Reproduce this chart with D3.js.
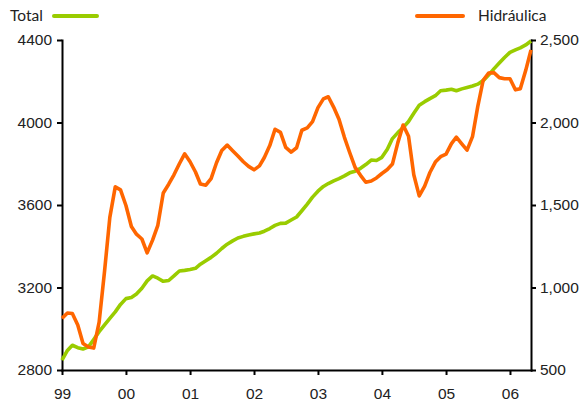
<!DOCTYPE html>
<html>
<head>
<meta charset="utf-8">
<script src="https://cdn.jsdelivr.net/npm/d3@7/dist/d3.min.js"></script>
<style>
  html, body { margin: 0; padding: 0; background: #fff; }
  svg { display: block; font-family: Lato, "Open Sans", sans-serif; }
  .axis text { font-size: 15.5px; fill: #222; }
  .axis path, .axis line { stroke: #000; stroke-width: 2px; }
</style>
</head>
<body>
<svg id="chart" width="587" height="404"></svg>
<script>
// Monthly series, January 1999 to May 2006
const startMonth = new Date(1999, 0, 1);
const endMonth = new Date(2006, 4, 1);

// Total (left axis)
const total = [
  2848, 2895, 2920, 2908, 2902, 2912, 2948, 2986, 3019, 3050, 3082, 3118,
  3146, 3151, 3168, 3196, 3232, 3256, 3245, 3230, 3234, 3256, 3280, 3283,
  3287, 3293, 3313, 3330, 3346, 3366, 3389, 3410, 3426, 3440, 3448, 3455,
  3460, 3464, 3473, 3486, 3501, 3511, 3512, 3527, 3542, 3572, 3604, 3638,
  3667, 3690, 3704, 3717, 3728, 3741, 3756, 3764, 3778, 3796, 3818, 3816,
  3831, 3870, 3922, 3951, 3975, 4005, 4045, 4084, 4101, 4116, 4130, 4154,
  4157, 4161, 4154, 4163, 4170, 4177, 4186, 4203, 4230, 4260, 4288, 4315,
  4340, 4352, 4362, 4376, 4395
];

// Hidráulica (right axis)
const hidraulica = [
  813, 845, 842, 773, 660, 639, 633, 790, 1100, 1425, 1610, 1592,
  1497, 1370, 1323, 1294, 1210, 1287, 1377, 1573, 1626, 1683, 1750, 1810,
  1762, 1700, 1627, 1620, 1660, 1756, 1830, 1863, 1829, 1797, 1762, 1734,
  1713, 1737, 1788, 1860, 1959, 1940, 1849, 1820, 1847, 1953, 1967, 2005,
  2090, 2143, 2156, 2092, 2020, 1910, 1818, 1728, 1680, 1638, 1645, 1664,
  1691, 1715, 1748, 1878, 1985, 1917, 1683, 1555, 1614, 1697, 1760, 1793,
  1808, 1872, 1911, 1871, 1833, 1914, 2096, 2256, 2300, 2302, 2272, 2265,
  2265, 2198, 2205, 2316, 2440
];

const leftTicks = [2800, 3200, 3600, 4000, 4400];
const rightTicks = [500, 1000, 1500, 2000, 2500];
const legendLabels = ["Total", "Hidráulica"];
const colors = { total: "#99cc00", hidraulica: "#ff6600" };

const months = d3.timeMonths(startMonth, d3.timeMonth.offset(endMonth, 1));

const svg = d3.select("#chart");
const plot = { left: 62, right: 531, top: 40, bottom: 370 };

const x = d3.scaleTime().domain([startMonth, endMonth]).range([plot.left, plot.right]);
const yLeft = d3.scaleLinear().domain([2800, 4400]).range([plot.bottom, plot.top]);
const yRight = d3.scaleLinear().domain([500, 2500]).range([plot.bottom, plot.top]);

const yearTicks = d3.timeYears(new Date(1999, 0, 1), new Date(2006, 1, 1));

// Axes
svg.append("g").attr("class", "axis")
  .attr("transform", `translate(0,${plot.bottom})`)
  .call(d3.axisBottom(x).tickValues(yearTicks).tickFormat(d3.timeFormat("%y"))
    .tickSize(5).tickSizeOuter(0).tickPadding(13));

svg.append("g").attr("class", "axis")
  .attr("transform", `translate(${plot.left},0)`)
  .call(d3.axisLeft(yLeft).tickValues(leftTicks).tickFormat(d3.format("d"))
    .tickSize(5).tickSizeOuter(0).tickPadding(5));

svg.append("g").attr("class", "axis")
  .attr("transform", `translate(${plot.right},0)`)
  .call(d3.axisRight(yRight).tickValues(rightTicks).tickFormat(d3.format(","))
    .tickSize(5).tickSizeOuter(0).tickPadding(4));

svg.selectAll(".axis .domain").attr("stroke-linecap", "square");

// Lines
const lineTotal = d3.line().x((d, i) => x(months[i])).y(d => yLeft(d));
const lineHidr = d3.line().x((d, i) => x(months[i])).y(d => yRight(d));

svg.append("path").datum(total)
  .attr("d", lineTotal)
  .attr("fill", "none").attr("stroke", colors.total)
  .attr("stroke-width", 3.6).attr("stroke-linejoin", "round");

svg.append("path").datum(hidraulica)
  .attr("d", lineHidr)
  .attr("fill", "none").attr("stroke", colors.hidraulica)
  .attr("stroke-width", 3.6).attr("stroke-linejoin", "round");

// Legend
const legend = svg.append("g").style("font-size", "15.5px").attr("fill", "#222");
legend.append("text").attr("x", 10).attr("y", 21).text(legendLabels[0]);
legend.append("line").attr("x1", 54).attr("x2", 97).attr("y1", 16).attr("y2", 16)
  .attr("stroke", colors.total).attr("stroke-width", 4).attr("stroke-linecap", "round");

legend.append("line").attr("x1", 417).attr("x2", 463).attr("y1", 16).attr("y2", 16)
  .attr("stroke", colors.hidraulica).attr("stroke-width", 4).attr("stroke-linecap", "round");
legend.append("text").attr("x", 478).attr("y", 21).text(legendLabels[1]);
</script>
</body>
</html>
